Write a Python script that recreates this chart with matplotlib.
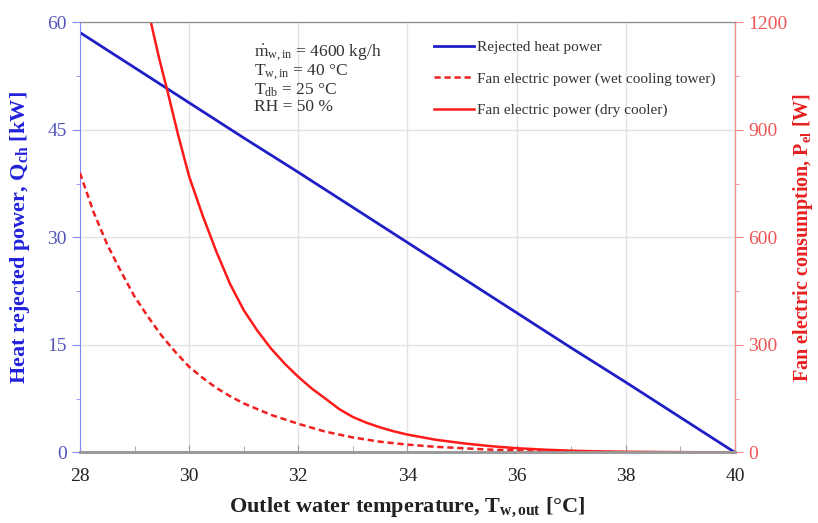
import matplotlib.pyplot as plt
from matplotlib.ticker import MultipleLocator

plt.rcParams['font.family'] = ['Liberation Serif', 'DejaVu Serif']
plt.rcParams['mathtext.fontset'] = 'custom'
plt.rcParams['mathtext.rm'] = 'Liberation Serif'
plt.rcParams['mathtext.it'] = 'Liberation Serif'
plt.rcParams['mathtext.bf'] = 'Liberation Serif:bold'

# Rejected heat power [kW] vs outlet water temperature [C]
t_heat = [28, 29, 30, 31, 32, 33, 34, 35, 36, 37, 38, 39, 40]
q_heat = [58.6, 53.7, 48.8, 43.9, 39.1, 34.2, 29.3, 24.4, 19.5, 14.6, 9.8, 4.9, 0.0]

# Fan electric power [W], wet cooling tower
t_wet = [28, 28.25, 28.5, 28.75, 29, 29.25, 29.5, 29.75, 30, 30.25, 30.5, 30.75,
         31, 31.5, 32, 32.5, 33, 33.5, 34, 34.5, 35, 35.5, 36, 37, 38, 39, 40]
p_wet = [780, 670, 580, 505, 435, 378, 325, 280, 239, 208, 180, 157,
         137, 105, 80, 58, 42, 30, 22, 16, 12, 8, 6, 3, 1, 0.5, 0]

# Fan electric power [W], dry cooler
t_dry = [29.3, 29.45, 29.6, 29.8, 30.0, 30.25, 30.5, 30.75, 31.0, 31.25, 31.5, 31.75,
         32.0, 32.25, 32.5, 32.75, 33.0, 33.25, 33.5, 33.75, 34.0, 34.5, 35.0, 35.5,
         36.0, 36.5, 37.0, 37.5, 38.0, 39.0, 40.0]
p_dry = [1200, 1100, 1010, 885, 770, 660, 560, 470, 397, 340, 290, 248,
         211, 178, 150, 121, 99, 83, 70, 59, 50, 36, 26, 18,
         12, 8, 5, 3, 2, 1, 0]

blue = '#1f1fc8'
red = '#ff1a1a'

fig = plt.figure(figsize=(8.18, 5.23), dpi=100)
ax = fig.add_axes([0.0978, 0.1348, 0.8007, 0.8222])
ax2 = ax.twinx()

l1, = ax.plot(t_heat, q_heat, color=blue, lw=2, label='Rejected heat power')
l2, = ax2.plot(t_wet, p_wet, color='#f02020', lw=1.8, ls=(0, (2.5, 1.5)),
               label='Fan electric power (wet cooling tower)')
l3, = ax2.plot(t_dry, p_dry, color=red, lw=1.8, label='Fan electric power (dry cooler)')

ax.set_xlim(28, 40)
ax.set_ylim(0, 60)
ax2.set_ylim(0, 1200)
ax.xaxis.set_major_locator(MultipleLocator(2))
ax.xaxis.set_minor_locator(MultipleLocator(1))
ax.yaxis.set_major_locator(MultipleLocator(15))
ax.yaxis.set_minor_locator(MultipleLocator(7.5))
ax2.yaxis.set_major_locator(MultipleLocator(300))
ax2.yaxis.set_minor_locator(MultipleLocator(150))

ax.grid(True, which='major', color='#e2e2e2', lw=1)
ax.set_axisbelow(True)

for a in (ax, ax2):
    a.spines['top'].set_color('#8a8a8a')
    a.spines['bottom'].set_color('#9a9a9a')
    a.spines['bottom'].set_linewidth(2)
ax.spines['left'].set_color('#8888ff')
ax2.spines['left'].set_visible(False)
ax2.spines['right'].set_color('#ff8888')

ax.tick_params(axis='x', which='both', direction='in', colors='#9a9a9a',
               labelcolor='#222222', labelsize=14, pad=11)
ax.tick_params(axis='x', which='major', length=5)
ax.tick_params(axis='x', which='minor', length=4)
ax.tick_params(axis='y', which='both', direction='out', colors='#8888ff',
               labelcolor='#5555bb', labelsize=14)
ax.tick_params(axis='y', which='major', length=6)
ax.tick_params(axis='y', which='minor', length=3)
ax2.tick_params(axis='y', which='both', direction='out', colors='#ff8888',
                labelcolor='#ee5555', labelsize=14)
ax2.tick_params(axis='y', which='major', length=6)
ax2.tick_params(axis='y', which='minor', length=3)

ax.set_xlabel(r'Outlet water temperature, T$_{\mathbf{w,out}}$ [°C]',
              fontsize=16, fontweight='bold', color='#222222', labelpad=8)
ax.set_ylabel(r'Heat rejected power, Q$_{\mathbf{ch}}$ [kW]',
              fontsize=16, fontweight='bold', color='#2222dd')
ax2.set_ylabel(r'Fan electric consumption, P$_{\mathbf{el}}$ [W]',
               fontsize=14.5, fontweight='bold', color='#e82020')
ax.yaxis.set_label_coords(-0.073, 0.5)
ax2.yaxis.set_label_coords(1.086, 0.5)

ax.text(0.265, 0.955,
        '$\\dot{m}_{w,in}$ = 4600 kg/h\n'
        'T$_{w,in}$ = 40 °C\n'
        'T$_{db}$ = 25 °C\n'
        'RH = 50 %',
        transform=ax.transAxes, ha='left', va='top', fontsize=12.5,
        color='#333333', linespacing=0.98)

ax2.legend(handles=[l1, l2, l3], loc='upper left', bbox_to_anchor=(0.52, 0.99),
           frameon=False, fontsize=11, handlelength=2.6, handletextpad=0.2,
           labelspacing=1.15, labelcolor='#333333')

fig.savefig('out.png', dpi=100)
